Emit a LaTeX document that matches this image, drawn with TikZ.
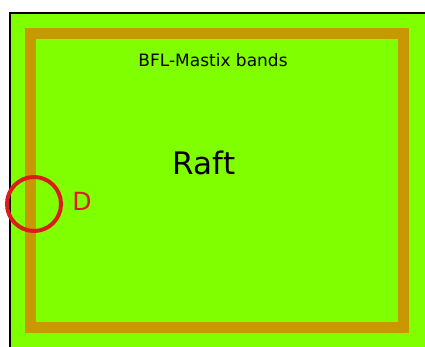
\documentclass[tikz,border=0pt]{standalone}
\usepackage{fontspec}
\setmainfont{DejaVu Sans}
\definecolor{raftgreen}{RGB}{128,255,0}
\definecolor{bandtan}{RGB}{200,152,0}
\definecolor{markred}{RGB}{220,28,28}
\tikzset{
  band/.style={draw=bandtan, line width=11pt},
  label/.style={inner sep=0pt, text=black},
}
\begin{document}
\begin{tikzpicture}[x=1pt, y=-1pt]
  % page extent
  \useasboundingbox (0,0) rectangle (425,347);
  \fill[white] (0,0) rectangle (425,347);
  % raft surface with its black top and left edges
  \fill[raftgreen] (10,13) rectangle (425,347);
  \draw[black, line width=1.5pt] (10,347) -- (10,13) -- (425,13);
  % mastix band around the raft
  \draw[band] (30.5,34) rectangle (403,327);
  % labels
  \node[label, font=\fontsize{17}{19}\selectfont] (bands) at (213,60) {BFL-Mastix bands};
  \node[label, font=\fontsize{31}{34}\selectfont] (raft) at (204,163) {Raft};
  % detail marker D on the left band
  \node[circle, draw=markred, line width=4pt, minimum size=54pt, inner sep=0pt] (mark) at (34,204) {};
  \node[label, text=markred, font=\fontsize{25}{28}\selectfont] (dlabel) at (82,201) {D};
\end{tikzpicture}
\end{document}
